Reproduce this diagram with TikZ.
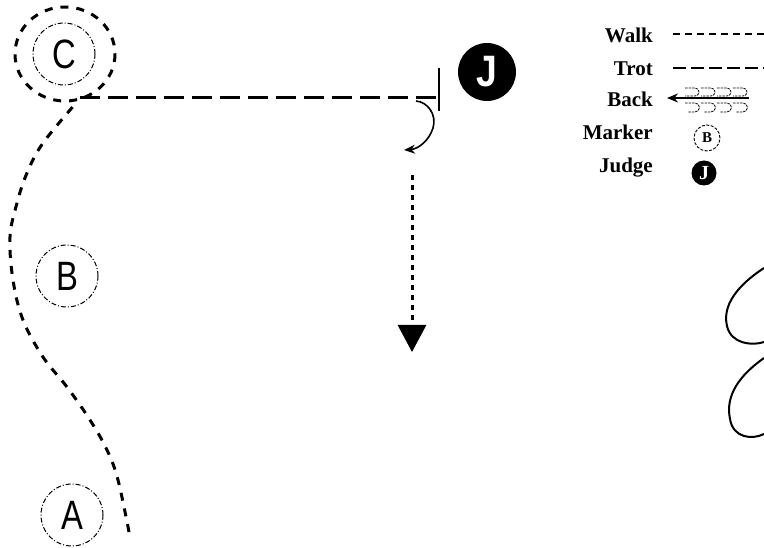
\documentclass[tikz,border=0pt]{standalone}
\usepackage{fontspec}
\usepackage{graphicx}
\setmainfont{Liberation Serif}
\newfontfamily\sansf{Liberation Sans}
\usetikzlibrary{arrows.meta}
\begin{document}
\begin{tikzpicture}[x=1pt,y=-1pt,
  walk/.style={line width=3pt, dash pattern=on 8pt off 8pt},
  trot/.style={line width=3pt, dash pattern=on 20pt off 8pt},
  legwalk/.style={line width=2pt, dash pattern=on 7pt off 5pt},
  legtrot/.style={line width=2.5pt, dash pattern=on 13pt off 5pt},
  dotline/.style={line width=3pt, dash pattern=on 5pt off 5pt},
  marker/.style={circle, draw, line width=1pt, dash pattern=on 5pt off 2pt on 1pt off 2pt,
    minimum size=62pt, inner sep=0pt, font=\sansf\fontsize{41}{41}\selectfont},
  judge/.style={circle, fill=black, minimum size=58pt, inner sep=0pt, text=white,
    font=\sansf\bfseries\fontsize{44}{44}\selectfont},
  legmarker/.style={circle, draw, line width=0.9pt, dash pattern=on 3pt off 1.5pt,
    minimum size=26pt, inner sep=0pt, font=\bfseries\fontsize{15}{15}\selectfont},
  legjudge/.style={circle, fill=black, minimum size=25pt, inner sep=0pt, text=white,
    font=\bfseries\fontsize{20}{20}\selectfont},
  legtext/.style={anchor=base east, inner sep=0pt, font=\bfseries\fontsize{21}{21}\selectfont},
  hook/.style={line width=0.8pt, dash pattern=on 2.5pt off 1pt},
  curve/.style={line width=2pt}]
\useasboundingbox (0,0) rectangle (764,548);

% markers
\node[marker] (C) at (64,54) {\scalebox{0.8}[1]{C}};
\node[marker] (B) at (67,276) {\scalebox{0.8}[1]{B}};
\node[marker] (A) at (72,515) {\scalebox{0.8}[1]{A}};
\node[judge] (J) at (487,72) {\scalebox{0.85}[1]{J}};

% coordinates of the route
\coordinate (wstart) at (129,532);
\coordinate (loopin) at (77,102);
\coordinate (tstart) at (80,98);
\coordinate (tend) at (436,98);
\coordinate (halttop) at (439,68);
\coordinate (haltbot) at (439,111);
\coordinate (turnA) at (416,101);
\coordinate (turnB) at (404,150);
\coordinate (dstart) at (412,175);
\coordinate (dend) at (412,352);

% walk from A up to C
\draw[walk] plot[smooth, tension=0.6] coordinates {(wstart) (118,480) (107,450) (90,420) (67,387) (43,357) (23,320) (13,280) (10,237) (17,203) (27,173) (43,143) (loopin)};
% loop round C
\draw[walk] (65,54) ellipse[x radius=50, y radius=47];
% trot to the judge
\draw[trot] (tstart) -- (tend);
\draw[line width=2pt] (halttop) -- (haltbot);
% turn
\draw[line width=1.6pt, -{Stealth[length=11pt,width=9pt]}] (turnA) .. controls (428,102) and (437,115) .. (433,128) .. controls (429,141) and (418,149) .. (turnB);
% back
\draw[dotline, -{Triangle[length=27pt,width=28pt]}] (dstart) -- (dend);

% right-hand curves
\draw[curve] (764,268) .. controls (738,285) and (722,305) .. (727,326) .. controls (731,344) and (752,346) .. (764,342);
\draw[curve] (764,358) .. controls (740,375) and (725,395) .. (730,419) .. controls (733,438) and (752,440) .. (764,434);

% legend
\node[legtext] (lw) at (653,43) {Walk};
\node[legtext] (lt) at (653,76) {Trot};
\node[legtext] (lb) at (653,107) {Back};
\node[legtext] (lm) at (653,140) {Marker};
\node[legtext] (lj) at (653,173) {Judge};
\coordinate (lw1) at (673,34); \coordinate (lw2) at (764,34);
\coordinate (lt1) at (673,68); \coordinate (lt2) at (764,68);
\coordinate (lb1) at (749,98); \coordinate (lb2) at (667,98);
\draw[legwalk] (lw1) -- (lw2);
\draw[legtrot] (lt1) -- (lt2);
\draw[line width=1.6pt, -{Stealth[length=11pt,width=9pt]}] (lb1) -- (lb2);
\foreach \x in {685,701,717,733}{
  \draw[hook] (\x,88) -- (\x+10,88) arc[start angle=-90,end angle=90,radius=4] -- (\x,96);
  \draw[hook] (\x,103) -- (\x+10,103) arc[start angle=-90,end angle=90,radius=4.5] -- (\x+3,112);
}
\node[legmarker] (lmb) at (707,138) {B};
\node[legjudge] (ljj) at (704,173) {J};
\end{tikzpicture}
\end{document}
